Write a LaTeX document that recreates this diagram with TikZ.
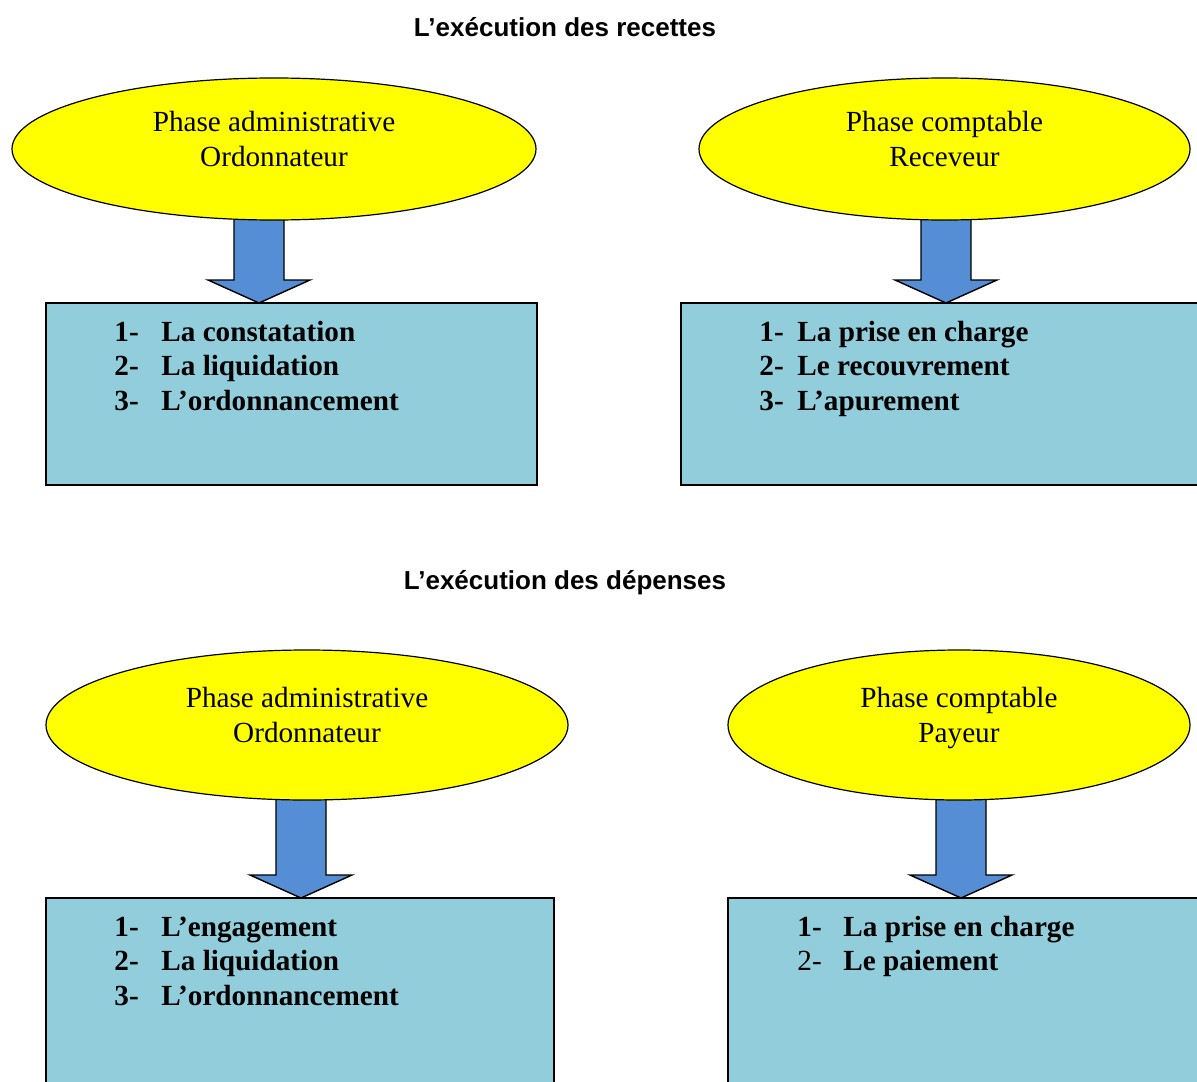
\documentclass[tikz,border=0pt]{standalone}
\usepackage{fontspec}
\setmainfont{Liberation Serif}
\newfontfamily\titlefont{Liberation Sans}
\usetikzlibrary{positioning, calc, shapes.geometric, backgrounds}
\definecolor{phaseyellow}{HTML}{FFFF00}
\definecolor{stepblue}{HTML}{92CDDC}
\definecolor{arrowblue}{HTML}{558ED5}

\begin{document}
\begin{tikzpicture}[x=0.5pt, y=-0.5pt,
 phase/.style={draw, ellipse, fill=phaseyellow, line width=0.6pt, inner sep=0pt},
 phasetext/.style={align=center, inner sep=0pt, text depth=3pt,
 font=\fontsize{14.6}{17.5}\selectfont},
 stepbox/.style={draw, fill=stepblue, line width=1pt, anchor=north west,
 inner sep=0pt, outer sep=0pt},
 steplist/.style={anchor=base west, inner sep=0pt,
 font=\fontsize{14.6}{17.25}\selectfont\bfseries},
 title/.style={anchor=base, inner sep=0pt,
 font=\titlefont\bfseries\fontsize{13}{15}\selectfont},
 blockarrow/.style={draw, fill=arrowblue, line width=0.7pt}]
 \useasboundingbox (0,0) rectangle (1197,1081);

 % recettes
 \node[title] (rectitle) at (565,37) {L’exécution des recettes};
 \node[phase, minimum width=262pt, minimum height=71pt] (adm1) at (274,149) {};
 \node[phasetext] at ($(adm1.center)+(0,-7)$) {Phase administrative\\Ordonnateur};
 \node[phase, minimum width=245.5pt, minimum height=71pt] (cpt1) at (944.5,149) {};
 \node[phasetext] at ($(cpt1.center)+(0,-7)$) {Phase comptable\\Receveur};
 \node[stepbox, minimum width=245.5pt, minimum height=91pt] (box1) at (46,303) {};
 \node[stepbox, minimum width=268pt, minimum height=91pt] (box2) at (681,303) {};
 \node[steplist] (list1) at ($(box1.north west)+(68,38)$)
 {\begin{tabular}[t]{@{}p{23.5pt}@{}l@{}}
 1- & La constatation\\
 2- & La liquidation\\
 3- & L’ordonnancement
 \end{tabular}};
 \node[steplist] (list2) at ($(box2.north west)+(78,38)$)
 {\begin{tabular}[t]{@{}p{19pt}@{}l@{}}
 1- & La prise en charge\\
 2- & Le recouvrement\\
 3- & L’apurement
 \end{tabular}};

 % depenses
 \node[title] (deptitle) at (565,589) {L’exécution des dépenses};
 \node[phase, minimum width=261pt, minimum height=75pt] (adm2) at (307,725) {};
 \node[phasetext] at ($(adm2.center)+(0,-7.5)$) {Phase administrative\\Ordonnateur};
 \node[phase, minimum width=231pt, minimum height=75pt] (cpt2) at (959,725) {};
 \node[phasetext] at ($(cpt2.center)+(0,-7.5)$) {Phase comptable\\Payeur};
 \node[stepbox, minimum width=254pt, minimum height=100pt] (box3) at (46,898) {};
 \node[stepbox, minimum width=244.5pt, minimum height=100pt] (box4) at (728,898) {};
 \node[steplist] (list3) at ($(box3.north west)+(68,38)$)
 {\begin{tabular}[t]{@{}p{23.5pt}@{}l@{}}
 1- & L’engagement\\
 2- & La liquidation\\
 3- & L’ordonnancement
 \end{tabular}};
 \node[steplist] (list4) at ($(box4.north west)+(69,38)$)
 {\begin{tabular}[t]{@{}p{23pt}@{}l@{}}
 1- & La prise en charge\\
 \mdseries 2- & Le paiement
 \end{tabular}};

 % block arrows, behind the ellipses
 \begin{scope}[on background layer]
 \foreach \e/\b/\dx in {adm1/box1/213, cpt1/box2/265, adm2/box3/255, cpt2/box4/233} {
 \coordinate (tip) at ($(\b.north west)+(\dx,0)$);
 \draw[blockarrow] (tip) -- ++(-51,-23) -- ++(26,0)
 -- ({$(tip)+(-25,0)$} |- \e.center) -- ({$(tip)+(25,0)$} |- \e.center)
 -- ($(tip)+(25,-23)$) -- ++(26,0) -- cycle;
 }
 \end{scope}
\end{tikzpicture}
\end{document}
